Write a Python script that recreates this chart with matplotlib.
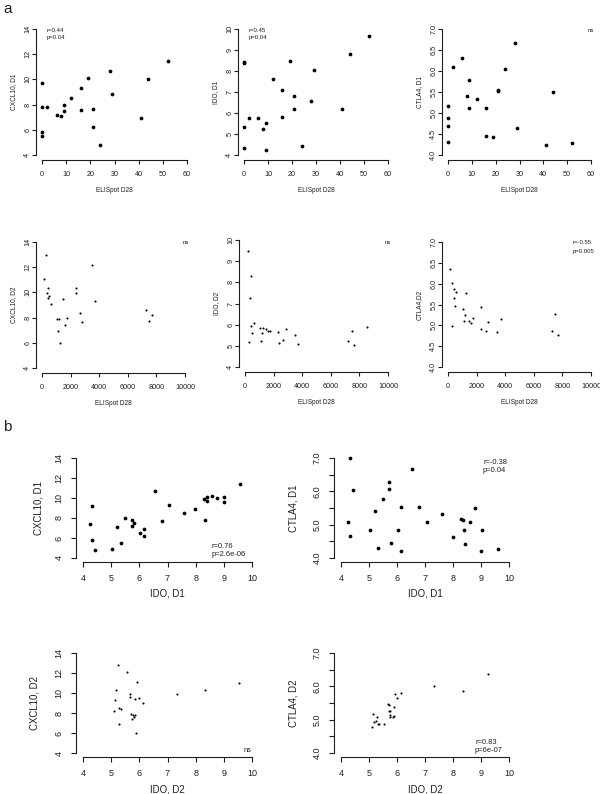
import matplotlib
matplotlib.use('Agg')
import matplotlib.pyplot as plt
import numpy as np

plt.rcParams['font.family'] = ['Liberation Sans', 'DejaVu Sans']

W, H = 600, 794

# ---- panel a, top row: ELISpot D28 vs D1 markers ----
elispot_d1 = [0, 0, 0, 0, 2, 6, 8, 9, 9, 12, 16, 16, 19, 21, 21, 24, 28, 29, 41, 44, 52]
cxcl10_d1_a = [9.7, 7.8, 5.85, 5.5, 7.8, 7.15, 7.08, 8.0, 7.47, 8.5, 9.33, 7.55, 10.15,
               7.69, 6.2, 4.77, 10.7, 8.88, 6.94, 10.0, 11.45]
ido_d1_a = [8.44, 8.39, 5.35, 4.33, 5.76, 5.76, 5.22, 5.5, 4.25, 7.63, 7.1, 5.81, 8.47,
            6.82, 6.19, 4.43, 6.58, 8.03, 6.19, 8.8, 9.67]
ctla4_d1_a = [5.17, 4.88, 4.69, 4.32, 6.09, 6.31, 5.40, 5.78, 5.11, 5.33, 5.11, 4.45, 4.44,
              5.55, 5.52, 6.05, 6.67, 4.65, 4.23, 5.50, 4.29]

# ---- panel a, bottom row: ELISpot D28 vs D2 markers ----
elispot_cx = [140, 300, 330, 400, 440, 510, 610, 1050, 1190, 1140, 1260, 1450, 1640, 1750,
              2360, 2360, 2640, 2830, 3480, 3710, 7240, 7480, 7710]
cxcl10_d2_a = [11.06, 12.94, 9.98, 9.56, 10.38, 9.72, 9.08, 7.89, 7.89, 6.96, 6.01, 9.45,
               7.44, 8.0, 9.93, 10.35, 8.37, 7.63, 12.2, 9.32, 8.58, 7.71, 8.24]
elispot_ido = [186, 442, 349, 302, 419, 488, 628, 1047, 1140, 1186, 1280, 1488, 1628, 1744,
               2302, 2349, 2628, 2837, 3465, 3674, 7233, 7465, 7651, 8512]
ido_d2_a = [9.49, 8.29, 7.27, 5.18, 5.92, 5.62, 6.08, 5.83, 5.23, 5.62, 5.85, 5.81, 5.69,
            5.69, 5.64, 5.12, 5.29, 5.78, 5.5, 5.07, 5.24, 5.69, 5.04, 5.88]
elispot_ct = [117, 280, 304, 397, 397, 491, 584, 1051, 1145, 1192, 1262, 1449, 1612, 1752,
              2336, 2336, 2640, 2827, 3458, 3692, 7243, 7453, 7687]
ctla4_d2_a = [6.36, 4.98, 6.02, 5.87, 5.66, 5.46, 5.81, 5.39, 5.1, 5.26, 5.78, 5.1, 5.06,
              5.18, 5.43, 4.91, 4.86, 5.08, 4.85, 5.16, 4.86, 5.27, 4.78]

# ---- panel b, D1 ----
ido_d1_cx = [4.25, 4.32, 4.32, 4.44, 5.04, 5.21, 5.34, 5.49, 5.73, 5.74, 5.8, 6.04, 6.16,
             6.16, 6.55, 6.8, 7.05, 7.58, 7.96, 8.29, 8.34, 8.39, 8.41, 8.59, 8.76, 8.99,
             9.02, 9.58]
cxcl10_d1_b = [7.45, 9.2, 5.84, 4.76, 4.95, 7.09, 5.51, 8.01, 7.78, 7.16, 7.55, 6.5, 6.93,
               6.2, 10.71, 7.72, 9.33, 8.54, 8.9, 9.95, 7.81, 9.72, 10.15, 10.18, 9.98, 9.56,
               10.09, 11.43]
ido_d1_ct = [4.25, 4.31, 4.31, 4.42, 5.03, 5.22, 5.33, 5.5, 5.72, 5.73, 5.79, 6.03, 6.16,
             6.16, 6.54, 6.79, 7.06, 7.6, 7.99, 8.29, 8.35, 8.4, 8.42, 8.6, 8.77, 9.0, 9.05,
             9.62]
ctla4_d1_b = [5.09, 7.0, 4.67, 6.04, 4.83, 5.4, 4.3, 5.76, 6.29, 6.07, 4.45, 4.83, 5.54,
              4.22, 6.67, 5.52, 5.09, 5.31, 4.64, 5.17, 5.15, 4.85, 4.41, 5.09, 5.49, 4.21,
              4.85, 4.28]

# ---- panel b, D2 ----
ido_d2_cx = [5.26, 5.55, 5.92, 5.18, 5.14, 5.09, 5.29, 5.35, 5.27, 5.68, 5.68, 5.84, 5.99,
             6.14, 5.71, 5.76, 5.80, 5.73, 5.86, 5.89, 7.32, 8.32, 9.54]
cxcl10_d2_b = [12.85, 12.13, 11.11, 10.3, 9.28, 8.2, 8.49, 8.36, 6.95, 9.9, 9.64, 9.41, 9.54,
               9.05, 7.9, 7.77, 7.64, 7.41, 7.84, 6.0, 9.93, 10.33, 11.05]
ido_d2_ct = [5.1, 5.15, 5.17, 5.26, 5.29, 5.32, 5.36, 5.54, 5.68, 5.7, 5.7, 5.74, 5.74, 5.76,
             5.85, 5.9, 5.89, 5.92, 5.99, 6.15, 7.32, 8.34, 9.24]
ctla4_d2_b = [4.79, 5.16, 4.93, 4.97, 5.09, 4.86, 4.88, 4.86, 5.46, 5.44, 5.25, 5.27, 5.15,
              5.07, 5.09, 5.11, 5.39, 5.76, 5.65, 5.79, 6.01, 5.86, 6.36]


fig = plt.figure(figsize=(W / 100, H / 100), dpi=100)
INK = '#1e1e1e'


def make_axes(xpx, xr, ypx, yr):
    # xpx: pixel x of first/last tick, ypx: pixel y of lowest/highest tick
    # R style: plot region is 4% wider than the axis range
    sx = (xpx[1] - xpx[0]) / (xr[1] - xr[0])
    sy = (ypx[0] - ypx[1]) / (yr[1] - yr[0])
    dx = 0.04 * (xr[1] - xr[0])
    dy = 0.04 * (yr[1] - yr[0])
    x0 = xpx[0] - dx * sx
    x1 = xpx[1] + dx * sx
    y0 = ypx[1] - dy * sy
    y1 = ypx[0] + dy * sy
    ax = fig.add_axes([x0 / W, 1 - y1 / H, (x1 - x0) / W, (y1 - y0) / H])
    ax.set_xlim(xr[0] - dx, xr[1] + dx)
    ax.set_ylim(yr[0] - dy, yr[1] + dy)
    ax.patch.set_alpha(0)
    for s in ['top', 'right']:
        ax.spines[s].set_visible(False)
    ax.spines['left'].set_bounds(yr[0], yr[1])
    ax.spines['bottom'].set_bounds(xr[0], xr[1])
    for s in ['left', 'bottom']:
        ax.spines[s].set_color(INK)
        ax.spines[s].set_linewidth(0.8)
    # pixel box of the plot region, used to place the axis titles
    return ax, (x0, y0, x1, y1)


def style(ax, xticks, yticks, fs, tlen, xpad, ypad, ylabels=None, yfmt='{:g}'):
    ax.set_xticks(xticks)
    ax.set_xticklabels(['{:g}'.format(t) for t in xticks])
    ax.set_yticks(yticks)
    if ylabels is None:
        ylabels = [yfmt.format(t) for t in yticks]
    ax.set_yticklabels(ylabels, rotation=90, va='center')
    ax.tick_params(axis='both', labelsize=fs, colors=INK, length=tlen, width=0.8)
    ax.tick_params(axis='x', pad=xpad)
    ax.tick_params(axis='y', pad=ypad)


def titles(box, xlab, ylab, fs, xoff, yoff):
    x0, y0, x1, y1 = box
    fig.text((x0 + x1) / 2 / W, 1 - (y1 + xoff) / H, xlab, fontsize=fs, color=INK,
             ha='center', va='center')
    fig.text((x0 - yoff) / W, 1 - (y0 + y1) / 2 / H, ylab, fontsize=fs, color=INK,
             ha='center', va='center', rotation=90)


def scatter(ax, x, y, big):
    ax.plot(x, y, 'o', color='black', markersize=2.7 if big else 1.5,
            markeredgewidth=0)


def note(x, y, lines, fs, step):
    for i, t in enumerate(lines):
        fig.text(x / W, 1 - (y + i * step) / H, t, fontsize=fs,
                 color=INK, va='center', ha='left')


# sizes (pt) for panel a and panel b
TICK_A, LAB_A, NOTE_A = 5.2, 4.7, 4.3
TICK_B, LAB_B, NOTE_B = 6.5, 6.9, 5.4

ticks_60 = [0, 10, 20, 30, 40, 50, 60]
ticks_10k = [0, 2000, 4000, 6000, 8000, 10000]
ticks_ido = [4, 5, 6, 7, 8, 9, 10]
ticks_cx = [4, 6, 8, 10, 12, 14]
ticks_ct = [4.0, 4.5, 5.0, 5.5, 6.0, 6.5, 7.0]
ct_b_labels = ['4.0', '', '5.0', '', '6.0', '', '7.0']


def panel_a(xpx, xr, ypx, yr, x, y, big, xt, yt, ylab, yfmt='{:g}'):
    ax, box = make_axes(xpx, xr, ypx, yr)
    scatter(ax, x, y, big)
    style(ax, xt, yt, TICK_A, 2.8, 5.0, 0.8, yfmt=yfmt)
    titles(box, 'ELISpot D28', ylab, LAB_A, 30, 23)
    return ax


def panel_b(xpx, ypx, yr, x, y, big, yt, ylab, yoff, ylabels=None):
    ax, box = make_axes(xpx, (4, 10), ypx, yr)
    scatter(ax, x, y, big)
    style(ax, ticks_ido, yt, TICK_B, 3.6, 5.0, 5.5, ylabels=ylabels)
    xlab = 'IDO, D1' if 'D1' in ylab else 'IDO, D2'
    titles(box, xlab, ylab, LAB_B, 32, yoff)
    return ax


# panel a row 1
panel_a((42, 187), (0, 60), (155, 29), (4, 14), elispot_d1, cxcl10_d1_a, True,
        ticks_60, ticks_cx, 'CXCL10, D1')
note(47, 31, ['r=0.44', 'p=0.04'], NOTE_A, 7)

panel_a((244, 388), (0, 60), (155, 29), (4, 10), elispot_d1, ido_d1_a, True,
        ticks_60, ticks_ido, 'IDO, D1')
note(249, 31, ['r=0.45', 'p=0.04'], NOTE_A, 7)

panel_a((448, 591), (0, 60), (155, 29), (4, 7), elispot_d1, ctla4_d1_a, True,
        ticks_60, ticks_ct, 'CTLA4, D1', yfmt='{:.1f}')
note(588, 31, ['ns'], NOTE_A, 7)

# panel a row 2
panel_a((42, 185), (0, 10000), (368, 242), (4, 14), elispot_cx, cxcl10_d2_a, False,
        ticks_10k, ticks_cx, 'CXCL10, D2')
note(183, 243, ['ns'], NOTE_A, 7)

panel_a((245, 388), (0, 10000), (367, 240), (4, 10), elispot_ido, ido_d2_a, False,
        ticks_10k, ticks_ido, 'IDO, D2')
note(385, 243, ['ns'], NOTE_A, 7)

panel_a((448, 591), (0, 10000), (367, 242), (4, 7), elispot_ct, ctla4_d2_a, False,
        ticks_10k, ticks_ct, 'CTLA4,D2', yfmt='{:.1f}')
note(573, 243, ['r=-0.55', 'p=0.005'], NOTE_A, 8)

# panel b
panel_b((83, 252), (558, 458), (4, 14), ido_d1_cx, cxcl10_d1_b, True, ticks_cx,
        'CXCL10, D1', 38)
note(212, 546, ['r=0.76', 'p=2.6e-06'], NOTE_B, 8.5)

panel_b((341, 509), (558, 458), (4, 7), ido_d1_ct, ctla4_d1_b, True, ticks_ct,
        'CTLA4, D1', 41, ylabels=ct_b_labels)
note(483, 462, ['r=-0.38', 'p=0.04'], NOTE_B, 8.5)

panel_b((83, 252), (753, 653), (4, 14), ido_d2_cx, cxcl10_d2_b, False, ticks_cx,
        'CXCL10, D2', 42)
note(244, 750, ['ns'], NOTE_B, 8.5)

panel_b((341, 509), (753, 653), (4, 7), ido_d2_ct, ctla4_d2_b, False, ticks_ct,
        'CTLA4, D2', 41, ylabels=ct_b_labels)
note(475, 742, ['r=0.83', 'p=6e-07'], NOTE_B, 8.5)

fig.text(3 / W, 1 - 9 / H, 'a', fontsize=11, color=INK, va='center', ha='left')
fig.text(3 / W, 1 - 427 / H, 'b', fontsize=11, color=INK, va='center', ha='left')

fig.savefig('out.png', dpi=100)
